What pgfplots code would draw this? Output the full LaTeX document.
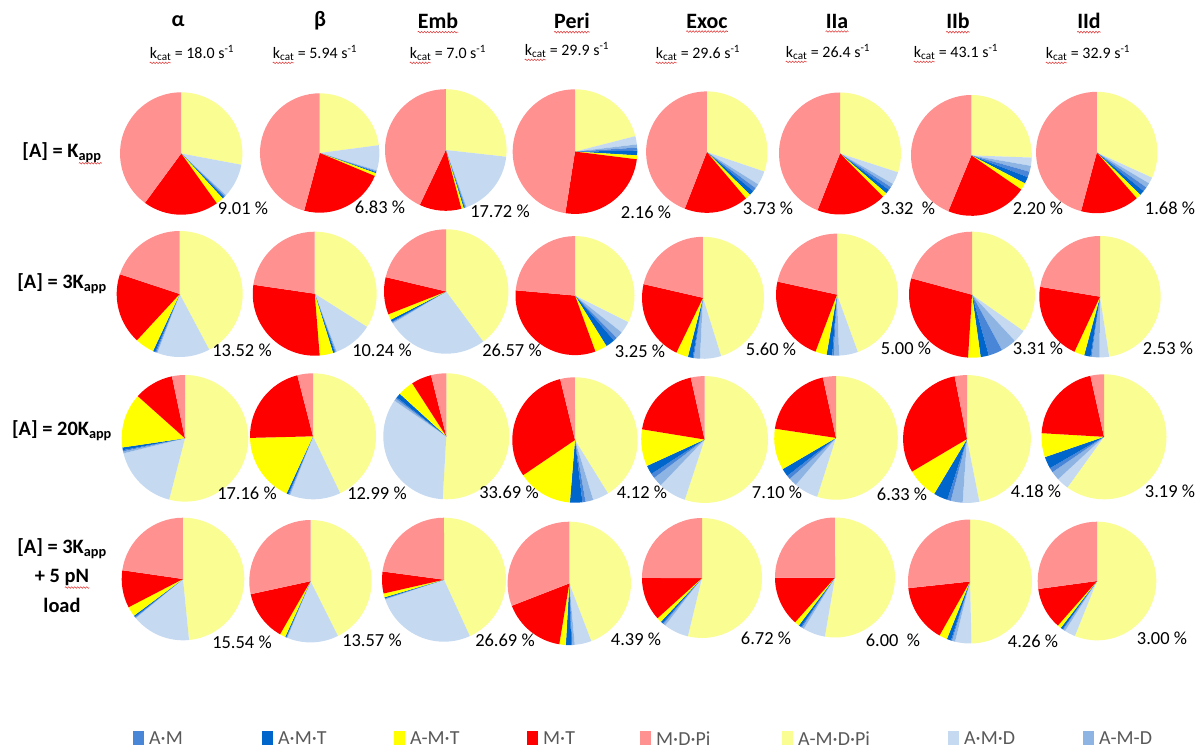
\documentclass[border=0pt]{standalone}
\usepackage{pgfplots}
\pgfplotsset{compat=1.18}
\usepackage{pgfplotstable}
\usetikzlibrary{decorations.pathmorphing}
\usepackage{fontspec}
\setmainfont{Carlito}

\definecolor{cly}{HTML}{FAFD91}
\definecolor{clb}{HTML}{C5D9F1}
\definecolor{cmb}{HTML}{8DB4E3}
\definecolor{cam}{HTML}{4A86D8}
\definecolor{cdb}{HTML}{0066CC}
\definecolor{cyl}{HTML}{FFFF00}
\definecolor{crd}{HTML}{FF0000}
\definecolor{cpk}{HTML}{FF9191}
\definecolor{sqred}{HTML}{E03C3C}
\definecolor{legtext}{HTML}{595959}

% order clockwise from 12 o'clock: A-M.D.Pi, A.M.D, A-M-D, A.M, A.M.T, A-M.T, M.T, M.D.Pi
\pgfplotstableread{
cx cy r ly lb mb am db yl rd pk lx lyy pct gap
181.2 153.5 61.2 28.0 9.01 0.4 0.3 0.5 2.0 20.0 40.0 243 208 9.01 0.23
319.7 153.0 59.7 23.0 6.83 0.3 0.2 0.3 0.8 23.0 46.0 380 207 6.83 0.23
445.8 150.0 60.8 26.8 17.72 0.3 0.2 0.3 0.6 11.2 43.0 500 211 17.72 0.23
575.0 151.6 62.3 21.0 2.16 0.8 0.8 1.2 1.0 25.5 47.5 646 212 2.16 0.23
706.8 152.1 60.7 30.2 3.73 1.2 1.0 1.3 1.4 17.1 44.1 768 208 3.73 0.23
840.0 153.5 61.0 30.0 3.32 1.0 0.9 1.1 1.2 18.5 44.0 908 208 3.32 0.46
971.4 155.4 60.4 25.6 2.20 1.6 1.5 1.8 1.9 21.7 43.8 1038 208 2.20 0.23
1096.8 152.5 60.7 31.8 1.68 1.3 1.2 1.3 1.3 15.6 45.8 1170 208 1.68 0.23
}\rowA
\pgfplotstableread{
cx cy r ly lb mb am db yl rd pk lx lyy pct gap
179.7 294.0 63.0 42.2 13.52 0.3 0.3 0.6 4.9 18.2 19.9 242 350 13.52 0.23
314.7 293.7 62.0 34.0 10.24 0.3 0.2 0.5 3.5 28.6 22.7 382 350 10.24 0.23
446.2 291.5 62.2 39.9 26.57 0.3 0.2 0.6 1.5 9.7 21.3 512 350 26.57 0.23
575.0 295.6 59.5 32.4 3.25 2.0 1.0 2.5 3.3 32.0 23.6 640 351 3.25 0.23
703.0 297.8 61.0 45.2 5.60 1.6 0.3 1.3 3.2 21.4 21.4 771 349 5.60 0.23
837.0 294.6 61.0 44.5 5.00 1.4 0.4 1.5 3.0 22.7 21.6 906 348 5.00 0.23
972.0 294.7 63.0 34.8 3.31 4.0 3.6 2.1 3.2 28.2 20.8 1038 348 3.31 0.23
1100.0 296.7 60.7 47.6 2.53 2.1 0.3 1.7 2.7 20.7 22.4 1168 348 2.53 0.23
}\rowB
\pgfplotstableread{
cx cy r ly lb mb am db yl rd pk lx lyy pct gap
185.0 438.3 63.3 54.0 17.16 0.5 0.3 0.7 13.9 10.1 3.3 247 493 17.16 0.23
313.0 436.3 63.0 42.9 12.99 0.3 0.2 0.5 17.7 21.4 4.0 377 493 12.99 0.23
446.3 436.3 63.0 50.9 33.69 0.6 0.4 1.2 4.1 5.2 3.9 509 492 33.69 0.23
575.0 440.0 62.7 41.2 4.12 2.0 0.8 3.2 14.2 30.7 3.8 642 492 4.12 0.23
704.6 439.5 63.4 55.0 7.10 2.5 1.2 2.3 9.4 18.9 3.5 777 492 7.10 0.23
836.0 437.9 61.8 54.9 6.33 2.2 1.0 2.1 10.8 19.2 3.4 902 494 6.33 0.23
967.0 439.0 63.9 46.9 4.18 3.0 0.9 3.6 7.9 30.4 3.1 1036 491 4.18 0.23
1104.0 436.8 62.5 60.0 3.19 2.3 1.2 3.1 6.2 20.6 3.5 1170 491 3.19 0.23
}\rowC
\pgfplotstableread{
cx cy r ly lb mb am db yl rd pk lx lyy pct gap
183.0 579.0 61.3 48.4 15.54 0.2 0.2 0.4 2.6 9.9 22.7 242 642 15.54 0.23
310.5 581.2 61.2 42.6 13.57 0.2 0.1 0.3 1.5 13.3 28.4 372 640 13.57 0.23
444.0 579.7 62.0 43.2 26.69 0.2 0.1 0.3 1.0 5.7 22.9 505 640 26.69 0.23
569.3 583.4 61.7 44.2 4.39 0.6 0.3 1.4 1.7 16.5 30.9 636 639 4.39 0.23
702.0 578.0 60.0 53.8 6.72 0.6 0.3 0.6 1.3 11.7 25.0 766 638 6.72 0.23
835.0 577.5 60.0 52.7 6.00 0.6 0.3 0.7 1.3 13.4 25.0 893 640 6.00 0.46
970.0 581.5 62.0 49.6 4.26 0.8 0.3 1.1 2.1 15.1 26.7 1033 641 4.26 0.23
1097.0 581.0 59.3 56.2 3.00 0.6 0.2 0.6 1.0 11.4 27.2 1162 638 3.00 0.23
}\rowD

\newcommand\titlefont{\fontsize{22}{24}\selectfont\bfseries}
\newcommand\kfont{\fontsize{16}{18}\selectfont}
\newcommand\pctfont{\fontsize{18.5}{20}\selectfont}
\newcommand\rowfont{\fontsize{20.5}{23}\selectfont\bfseries}
\newcommand\legfont{\fontsize{20}{22}\selectfont}

\newlength\kw \settowidth\kw{\kfont k\textsubscript{cat}}
\newlength\appw \settowidth\appw{\rowfont\textsubscript{app}}
\newlength\pnw \settowidth\pnw{\rowfont pN}

\tikzset{sqline/.style={draw=sqred, line width=0.55bp, decorate,
  decoration={snake, amplitude=0.8bp, segment length=3bp}}}

\newcommand\sqt[1]{\draw[sqline] ([yshift=-3.5bp]#1.base west) -- ([yshift=-3.5bp]#1.base east);}
\newcommand\sqk[1]{\draw[sqline] ([yshift=-4.5bp]#1.base west) -- ([yshift=-4.5bp, xshift=\kw]#1.base west);}

\newcommand\drawpies[1]{%
  \pgfplotstablegetrowsof{#1}%
  \pgfmathtruncatemacro\pienr{\pgfplotsretval-1}%
  \foreach \pieidx in {0,...,\pienr}{%
    \pgfplotstablegetelem{\pieidx}{cx}\of{#1}\let\piecx\pgfplotsretval
    \pgfplotstablegetelem{\pieidx}{cy}\of{#1}\let\piecy\pgfplotsretval
    \pgfplotstablegetelem{\pieidx}{r}\of{#1}\let\pierad\pgfplotsretval
    \xdef\piesum{0}%
    \foreach \piec in {ly,lb,mb,am,db,yl,rd,pk}{%
      \pgfplotstablegetelem{\pieidx}{\piec}\of{#1}%
      \pgfmathsetmacro\pietmp{\piesum+\pgfplotsretval}\xdef\piesum{\pietmp}}%
    \xdef\pieang{0}%
    \foreach \piec in {ly,lb,mb,am,db,yl,rd,pk}{%
      \pgfplotstablegetelem{\pieidx}{\piec}\of{#1}%
      \pgfmathsetmacro\pieA{90-\pieang}%
      \pgfmathsetmacro\pienew{\pieang+\pgfplotsretval/\piesum*360}%
      \pgfmathsetmacro\pieB{90-\pienew}%
      \edef\pietmp{\noexpand\fill[c\piec] (axis cs:\piecx,\piecy) -- ++(\pieA:\pierad bp) arc[start angle=\pieA, end angle=\pieB, radius=\pierad bp] -- cycle;}%
      \pietmp
      \xdef\pieang{\pienew}}%
    \pgfplotstablegetelem{\pieidx}{lx}\of{#1}\let\pielx\pgfplotsretval
    \pgfplotstablegetelem{\pieidx}{lyy}\of{#1}\let\piely\pgfplotsretval
    \pgfplotstablegetelem{\pieidx}{pct}\of{#1}\let\piepct\pgfplotsretval
    \pgfplotstablegetelem{\pieidx}{gap}\of{#1}\let\piegap\pgfplotsretval
    \edef\pietmp{\noexpand\node[font=\noexpand\pctfont, inner sep=0pt] at (axis cs:\pielx,\piely) {\piepct\noexpand\hspace{\piegap em}\noexpand\%};}%
    \pietmp
  }}

\begin{document}
\begin{tikzpicture}
\begin{axis}[hide axis, scale only axis, width=1204bp, height=755bp,
  xmin=0, xmax=1204, ymin=0, ymax=755, y dir=reverse, clip=false]
\path (axis cs:0,0) rectangle (axis cs:1204,755);

\drawpies{\rowA}
\drawpies{\rowB}
\drawpies{\rowC}
\drawpies{\rowD}

% column titles
\node[font=\titlefont, inner sep=0pt] at (axis cs:178,21) {α};
\node[font=\titlefont, inner sep=0pt] at (axis cs:320,21) {β};
\node[font=\titlefont, inner sep=0pt] (t3) at (axis cs:438,21) {Emb};
\node[font=\titlefont, inner sep=0pt] (t4) at (axis cs:572,21) {Peri};
\node[font=\titlefont, inner sep=0pt] (t5) at (axis cs:707,21) {Exoc};
\node[font=\titlefont, inner sep=0pt] (t6) at (axis cs:837,21) {IIa};
\node[font=\titlefont, inner sep=0pt] (t7) at (axis cs:958,21) {IIb};
\node[font=\titlefont, inner sep=0pt] (t8) at (axis cs:1089,21) {IId};
\sqt{t3}\sqt{t4}\sqt{t5}\sqt{t6}\sqt{t7}\sqt{t8}

% kcat
\node[font=\kfont, inner sep=0pt] (k1) at (axis cs:192,53) {k\textsubscript{cat} = 18.0 s\textsuperscript{-1}};
\node[font=\kfont, inner sep=0pt] (k2) at (axis cs:315,53) {k\textsubscript{cat} = 5.94 s\textsuperscript{-1}};
\node[font=\kfont, inner sep=0pt] (k3) at (axis cs:448,53) {k\textsubscript{cat} = 7.0 s\textsuperscript{-1}};
\node[font=\kfont, inner sep=0pt] (k4) at (axis cs:567,50) {k\textsubscript{cat} = 29.9 s\textsuperscript{-1}};
\node[font=\kfont, inner sep=0pt] (k5) at (axis cs:698,53) {k\textsubscript{cat} = 29.6 s\textsuperscript{-1}};
\node[font=\kfont, inner sep=0pt] (k6) at (axis cs:828,52) {k\textsubscript{cat} = 26.4 s\textsuperscript{-1}};
\node[font=\kfont, inner sep=0pt] (k7) at (axis cs:956,52) {k\textsubscript{cat} = 43.1 s\textsuperscript{-1}};
\node[font=\kfont, inner sep=0pt] (k8) at (axis cs:1088,53) {k\textsubscript{cat} = 32.9 s\textsuperscript{-1}};
\sqk{k1}\sqk{k2}\sqk{k3}\sqk{k4}\sqk{k5}\sqk{k6}\sqk{k7}\sqk{k8}

% row labels
\node[font=\rowfont, inner sep=0pt] (r1) at (axis cs:62,153) {[A] = K\textsubscript{app}};
\draw[sqline] ([yshift=-5.5bp, xshift=-\appw]r1.base east) -- ([yshift=-5.5bp]r1.base east);
\node[font=\rowfont, inner sep=0pt] at (axis cs:62,284) {[A] = 3K\textsubscript{app}};
\node[font=\rowfont, inner sep=0pt] at (axis cs:62,431) {[A] = 20K\textsubscript{app}};
\node[font=\rowfont, inner sep=0pt] at (axis cs:62,549) {[A] = 3K\textsubscript{app}};
\node[font=\rowfont, inner sep=0pt] (r4) at (axis cs:62,577) {+ 5 pN};
\draw[sqline] ([yshift=-5.5bp, xshift=-\pnw]r4.base east) -- ([yshift=-5.5bp]r4.base east);
\node[font=\rowfont, inner sep=0pt] at (axis cs:62,605) {load};

% legend
\fill[cam] (axis cs:133,731) rectangle (axis cs:144,745);
\node[font=\legfont, text=legtext, anchor=west, inner sep=0pt] at (axis cs:149,738.5) {A·M};
\fill[cdb] (axis cs:262,731) rectangle (axis cs:273,745);
\node[font=\legfont, text=legtext, anchor=west, inner sep=0pt] at (axis cs:278,738.5) {A·M·T};
\fill[cyl] (axis cs:394,731) rectangle (axis cs:405,745);
\node[font=\legfont, text=legtext, anchor=west, inner sep=0pt] at (axis cs:410,738.5) {A-M·T};
\fill[crd] (axis cs:527,731) rectangle (axis cs:538,745);
\node[font=\legfont, text=legtext, anchor=west, inner sep=0pt] at (axis cs:543,738.5) {M·T};
\fill[cpk] (axis cs:640,731) rectangle (axis cs:651,745);
\node[font=\legfont, text=legtext, anchor=west, inner sep=0pt] at (axis cs:656,738.5) {M·D·Pi};
\fill[cly] (axis cs:782,731) rectangle (axis cs:793,745);
\node[font=\legfont, text=legtext, anchor=west, inner sep=0pt] at (axis cs:798,738.5) {A-M·D·Pi};
\fill[clb] (axis cs:948,731) rectangle (axis cs:959,745);
\node[font=\legfont, text=legtext, anchor=west, inner sep=0pt] at (axis cs:964,738.5) {A·M·D};
\fill[cmb] (axis cs:1083,731) rectangle (axis cs:1094,745);
\node[font=\legfont, text=legtext, anchor=west, inner sep=0pt] at (axis cs:1099,738.5) {A-M-D};
\end{axis}
\end{tikzpicture}
\end{document}
